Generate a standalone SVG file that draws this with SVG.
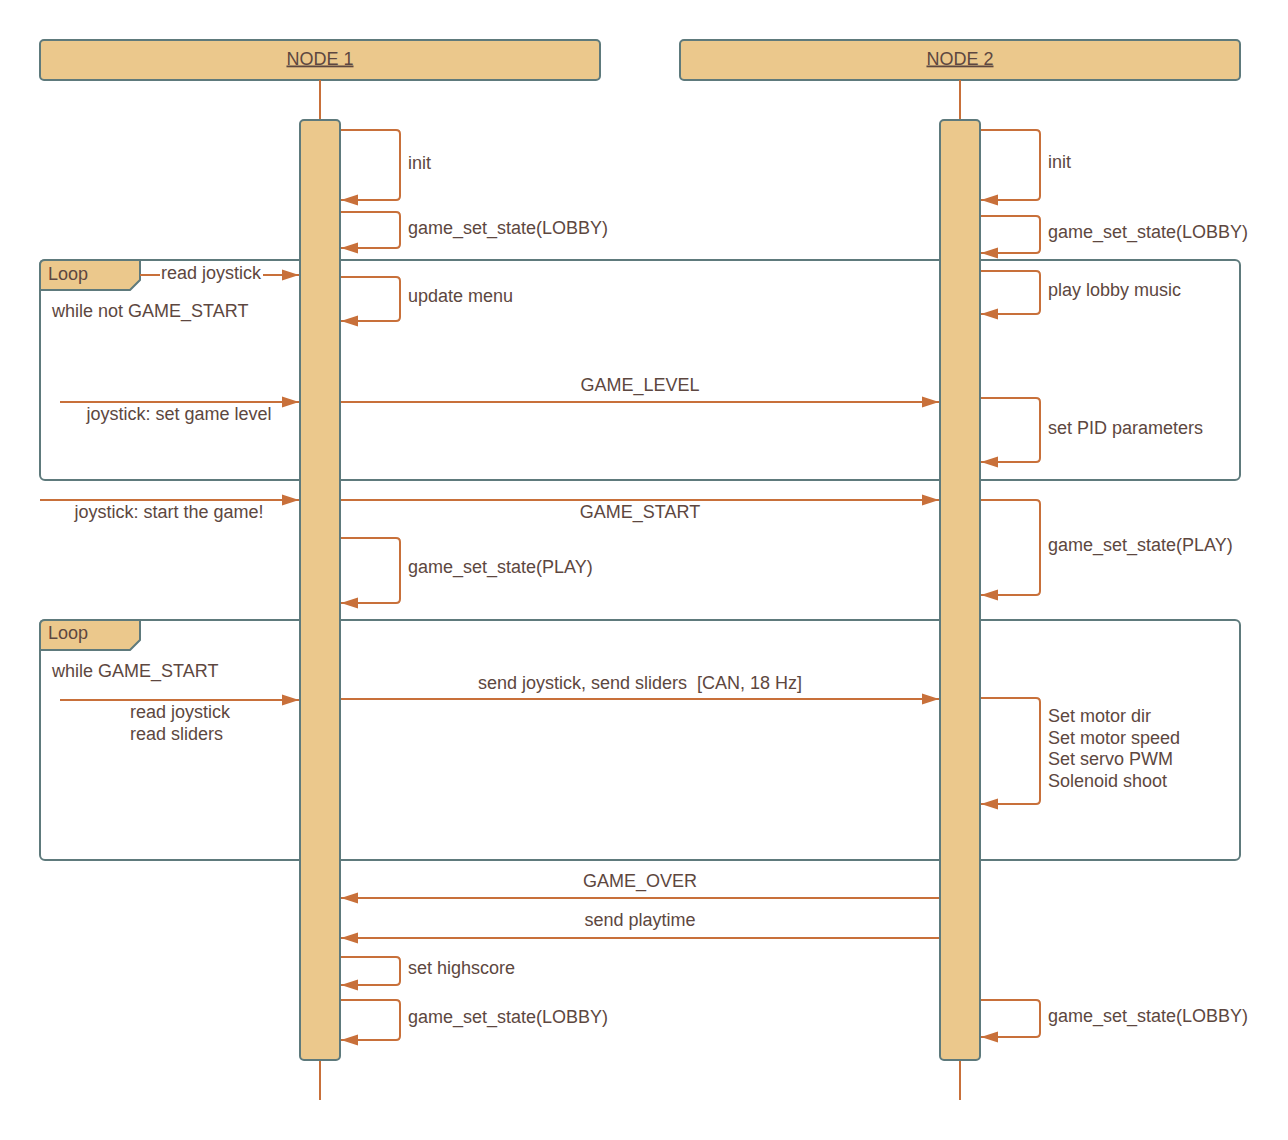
<svg xmlns="http://www.w3.org/2000/svg" width="1288" height="1140" viewBox="0 0 1288 1140">
  <style>
    .hdr { fill: #ebc88c; stroke: #5e7a7c; stroke-width: 2; }
    .bar { fill: #ebc88c; stroke: #5e7a7c; stroke-width: 2; }
    .frame { fill: none; stroke: #5e7a7c; stroke-width: 2; }
    .tab { fill: #ebc88c; stroke: #5e7a7c; stroke-width: 2; stroke-linejoin: round; }
    .life { stroke: #c8703a; stroke-width: 2; fill: none; }
    .msg { stroke: #c8703a; stroke-width: 2; fill: none; marker-end: url(#arrow); }
    .seg { stroke: #c8703a; stroke-width: 2; fill: none; }
    text { font-family: "Liberation Sans", Arial, sans-serif; font-size: 18px; fill: #5d4740; }
    .c { text-anchor: middle; }
  </style>
  <defs>
    <marker id="arrow" markerUnits="userSpaceOnUse" markerWidth="18" markerHeight="12" refX="17" refY="6" orient="auto" viewBox="0 0 18 12">
      <path d="M0,0.5 L17,6 L0,11.5 Z" fill="#c8703a"/>
    </marker>
  </defs>

  <rect width="1288" height="1140" fill="#ffffff"/>

  <!-- loop frames (behind activation bars) -->
  <g id="loop1">
    <rect class="frame" x="40" y="260" width="1200" height="220" rx="5"/>
    <path class="tab" d="M40,290 V265 Q40,260 45,260 H140 V280 L130,290 Z"/>
    <text x="48" y="280">Loop</text>
    <text x="52" y="317">while not GAME_START</text>
  </g>
  <g id="loop2">
    <rect class="frame" x="40" y="620" width="1200" height="240" rx="5"/>
    <path class="tab" d="M40,650 V625 Q40,620 45,620 H140 V640 L130,650 Z"/>
    <text x="48" y="639">Loop</text>
    <text x="52" y="677">while GAME_START</text>
  </g>

  <!-- node 1 -->
  <g id="node1">
    <rect class="hdr" x="40" y="40" width="560" height="40" rx="4"/>
    <text class="c" x="320" y="64.5" text-decoration="underline">NODE 1</text>
    <line class="life" x1="320" y1="80" x2="320" y2="120"/>
    <line class="life" x1="320" y1="1060" x2="320" y2="1100"/>
    <rect class="bar" x="300" y="120" width="40" height="940" rx="4"/>
  </g>

  <!-- node 2 -->
  <g id="node2">
    <rect class="hdr" x="680" y="40" width="560" height="40" rx="4"/>
    <text class="c" x="960" y="64.5" text-decoration="underline">NODE 2</text>
    <line class="life" x1="960" y1="80" x2="960" y2="120"/>
    <line class="life" x1="960" y1="1060" x2="960" y2="1100"/>
    <rect class="bar" x="940" y="120" width="40" height="940" rx="4"/>
  </g>

  <g id="connectors">
    <!-- node 1 self calls -->
    <path class="msg" d="M341,130 H396 Q400,130 400,134 V196 Q400,200 396,200 H341"/>
    <path class="msg" d="M341,212 H396 Q400,212 400,216 V244 Q400,248 396,248 H341"/>
    <path class="msg" d="M341,277 H396 Q400,277 400,281 V317 Q400,321 396,321 H341"/>
    <path class="msg" d="M341,538 H396 Q400,538 400,542 V599 Q400,603 396,603 H341"/>
    <path class="msg" d="M341,957 H396 Q400,957 400,961 V981 Q400,985 396,985 H341"/>
    <path class="msg" d="M341,1000 H396 Q400,1000 400,1004 V1036 Q400,1040 396,1040 H341"/>

    <!-- node 2 self calls -->
    <path class="msg" d="M981,130 H1036 Q1040,130 1040,134 V196 Q1040,200 1036,200 H981"/>
    <path class="msg" d="M981,216 H1036 Q1040,216 1040,220 V249 Q1040,253 1036,253 H981"/>
    <path class="msg" d="M981,271 H1036 Q1040,271 1040,275 V310 Q1040,314 1036,314 H981"/>
    <path class="msg" d="M981,398 H1036 Q1040,398 1040,402 V458 Q1040,462 1036,462 H981"/>
    <path class="msg" d="M981,500 H1036 Q1040,500 1040,504 V591 Q1040,595 1036,595 H981"/>
    <path class="msg" d="M981,698 H1036 Q1040,698 1040,702 V800 Q1040,804 1036,804 H981"/>
    <path class="msg" d="M981,1000 H1036 Q1040,1000 1040,1004 V1033 Q1040,1037 1036,1037 H981"/>

    <!-- read joystick, split around its label -->
    <line class="seg" x1="140" y1="275" x2="160" y2="275"/>
    <path class="msg" d="M263,275 H299"/>

    <!-- incoming to node 1 -->
    <path class="msg" d="M60,402 H299"/>
    <path class="msg" d="M40,500 H299"/>
    <path class="msg" d="M60,700 H299"/>

    <!-- node 1 to node 2 -->
    <path class="msg" d="M341,402 H939"/>
    <path class="msg" d="M341,500 H939"/>
    <path class="msg" d="M341,699 H939"/>

    <!-- node 2 to node 1 -->
    <path class="msg" d="M939,898 H341"/>
    <path class="msg" d="M939,938 H341"/>
  </g>

  <g id="labels">
    <text x="408" y="169">init</text>
    <text x="408" y="234">game_set_state(LOBBY)</text>
    <text x="408" y="302">update menu</text>
    <text x="408" y="573">game_set_state(PLAY)</text>
    <text x="408" y="974">set highscore</text>
    <text x="408" y="1023">game_set_state(LOBBY)</text>

    <text x="1048" y="168">init</text>
    <text x="1048" y="238">game_set_state(LOBBY)</text>
    <text x="1048" y="296">play lobby music</text>
    <text x="1048" y="434">set PID parameters</text>
    <text x="1048" y="551">game_set_state(PLAY)</text>
    <text x="1048" y="722">Set motor dir</text>
    <text x="1048" y="744">Set motor speed</text>
    <text x="1048" y="765">Set servo PWM</text>
    <text x="1048" y="787">Solenoid shoot</text>
    <text x="1048" y="1022">game_set_state(LOBBY)</text>

    <text class="c" x="211" y="279">read joystick</text>
    <text class="c" x="179" y="420">joystick: set game level</text>
    <text class="c" x="169" y="518">joystick: start the game!</text>
    <text x="130" y="718">read joystick</text>
    <text x="130" y="740">read sliders</text>

    <text class="c" x="640" y="391">GAME_LEVEL</text>
    <text class="c" x="640" y="518">GAME_START</text>
    <text class="c" x="640" y="689" xml:space="preserve">send joystick, send sliders  [CAN, 18 Hz]</text>
    <text class="c" x="640" y="887">GAME_OVER</text>
    <text class="c" x="640" y="926">send playtime</text>
  </g>
</svg>
